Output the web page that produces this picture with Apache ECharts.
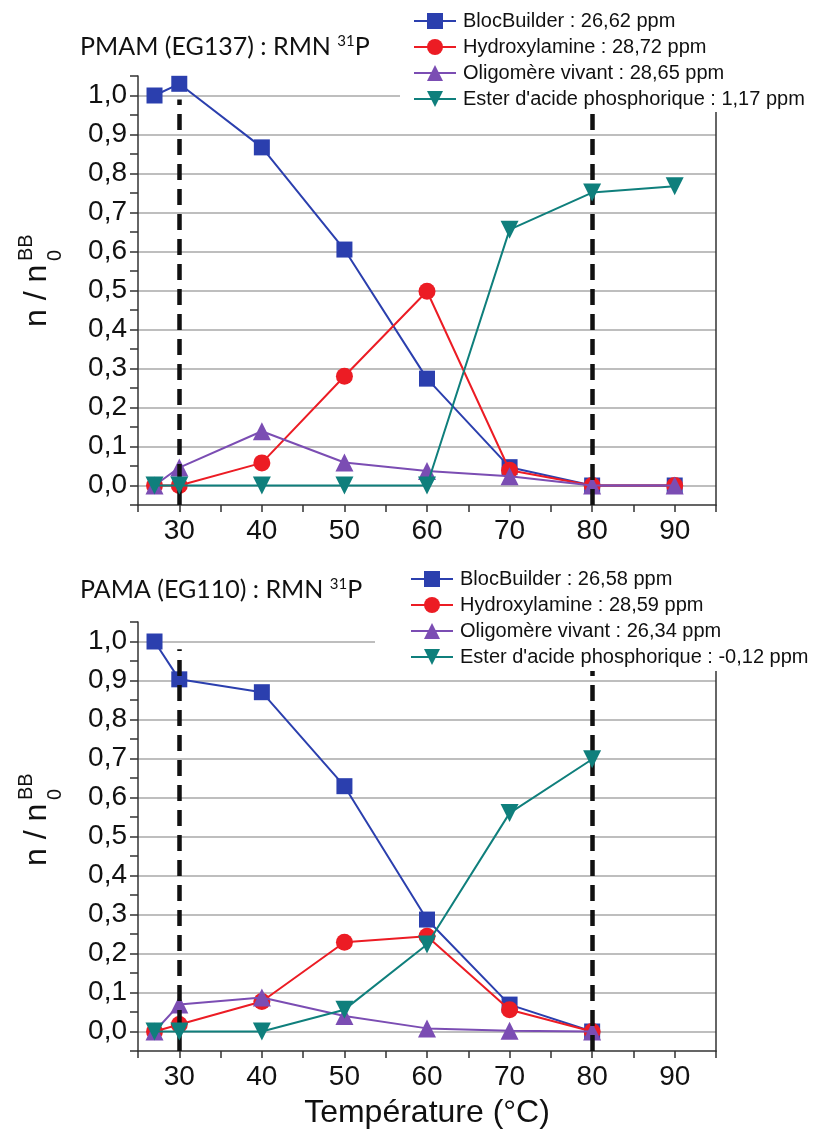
<!DOCTYPE html>
<html><head><meta charset="utf-8">
<script src="https://cdn.jsdelivr.net/npm/echarts@6/dist/echarts.min.js"></script>
<style>html,body{margin:0;padding:0;background:#fff}#c{width:836px;height:1133px}</style>
</head><body><div id="c"></div>
<script>
// ---- data ----
const tempsTop = [27, 30, 40, 50, 60, 70, 80, 90];
const blocBuilderTop   = [1.000, 1.030, 0.867, 0.605, 0.274, 0.047, 0, 0];
const hydroxylamineTop = [0, 0, 0.058, 0.280, 0.498, 0.039, 0, 0];
const oligomereTop     = [0, 0.046, 0.139, 0.059, 0.037, 0.024, 0, 0];
const esterTop         = [0, 0, 0, 0, 0, 0.656, 0.751, 0.767];

const tempsBottom = [27, 30, 40, 50, 60, 70, 80];
const blocBuilderBottom   = [1.000, 0.903, 0.870, 0.629, 0.287, 0.069, 0];
const hydroxylamineBottom = [0, 0.018, 0.077, 0.229, 0.244, 0.056, 0];
const oligomereBottom     = [0, 0.069, 0.087, 0.040, 0.008, 0.002, 0];
const esterBottom         = [0, 0, 0, 0.056, 0.223, 0.560, 0.698];

const namesTop = ['BlocBuilder : 26,62 ppm', 'Hydroxylamine : 28,72 ppm', 'Oligomère vivant : 28,65 ppm', "Ester d'acide phosphorique : 1,17 ppm"];
const namesBottom = ['BlocBuilder : 26,58 ppm', 'Hydroxylamine : 28,59 ppm', 'Oligomère vivant : 26,34 ppm', "Ester d'acide phosphorique : -0,12 ppm"];

const xTickLabels = ['30', '40', '50', '60', '70', '80', '90'];
const yTickLabels = ['0,0', '0,1', '0,2', '0,3', '0,4', '0,5', '0,6', '0,7', '0,8', '0,9', '1,0'];

// vertical dashed reference lines: [temperature, from, to]
const dashTop = [[30, -0.05, 0.99], [80, -0.05, 1.05]];
const dashBottom = [[30, -0.05, 0.98], [80, -0.05, 1.05]];

const titleTop = 'PMAM (EG137) : RMN ';
const titleBottom = 'PAMA (EG110) : RMN ';

// ---- styles ----
const FONT = '"Liberation Sans", Arimo, Arial, sans-serif';
const TFONT = 'Lato, "Open Sans", sans-serif';
const colors = ['#2b3fae', '#ec1c24', '#7b4db3', '#0f7f7c'];
const symbols = ['rect', 'circle', 'triangle', 'triangle'];
const rotations = [0, 0, 0, 180];
const sizes = [16, 17, 18, 18];

const GRID_LEFT = 138, GRID_W = 578, GRID_H = 429;
const gridTops = [76, 622];

function xAxisFor(gi) {
  return {
    type: 'value', gridIndex: gi, min: 25, max: 95, interval: 5,
    axisLine: {show: true, onZero: false, lineStyle: {color: '#333', width: 1.5}},
    axisTick: {show: true, length: 7, inside: false, lineStyle: {color: '#333', width: 1.5}},
    axisLabel: {
      margin: 12, fontSize: 28, fontFamily: FONT, color: '#111',
      formatter: v => (Math.round(v) % 10 === 0 && xTickLabels.includes(String(Math.round(v)))) ? String(Math.round(v)) : ''
    },
    splitLine: {show: false}
  };
}
function yAxisFor(gi) {
  return [{
    type: 'value', gridIndex: gi, min: -0.05, max: 1.05, interval: 0.05, position: 'left',
    axisLine: {show: true, lineStyle: {color: '#333', width: 1.5}},
    axisTick: {show: true, length: 8, lineStyle: {color: '#333', width: 1.5}},
    axisLabel: {
      margin: 11, fontSize: 28, fontFamily: FONT, color: '#111',
      formatter: v => { const k = Math.round(v * 20); if (k % 2 !== 0) return ''; return yTickLabels[k / 2] || ''; }
    },
    splitLine: {show: true, lineStyle: {color: ['rgba(0,0,0,0)', '#a9a9a9'], width: 1.5}}
  }, {
    type: 'value', gridIndex: gi, min: -0.05, max: 1.05, interval: 0.05, position: 'right',
    axisLine: {show: true, lineStyle: {color: '#333', width: 1.5}},
    axisTick: {show: false}, axisLabel: {show: false}, splitLine: {show: false}
  }];
}

function mkSeries(gi, names, xs, ysList, dash) {
  return ysList.map((ys, i) => {
    const s = {
      type: 'line', name: names[i], xAxisIndex: gi, yAxisIndex: gi * 2,
      data: xs.map((x, j) => [x, ys[j]]),
      symbol: symbols[i], symbolSize: sizes[i], symbolRotate: rotations[i], showAllSymbol: true,
      lineStyle: {color: colors[i], width: 2}, itemStyle: {color: colors[i]},
      z: 2 + i, animation: false
    };
    if (i === 0) {
      s.markLine = {
        silent: true, symbol: ['none', 'none'], label: {show: false}, animation: false,
        lineStyle: {color: '#111', width: 4.5, type: [16, 9]},
        emphasis: {disabled: true},
        data: dash.map(d => [{coord: [d[0], d[1]]}, {coord: [d[0], d[2]]}])
      };
    }
    return s;
  });
}

function legendFor(names, left, top, padding) {
  return {
    data: names, orient: 'vertical', left, top, padding, itemGap: 6,
    itemWidth: 42, itemHeight: 20, selectedMode: false, backgroundColor: '#fff', z: 20,
    textStyle: {fontSize: 20, fontFamily: FONT, color: '#111', lineHeight: 20, padding: [0, 0, 0, 2]}
  };
}

function yName(x, y) {
  return {
    type: 'group', x, y, rotation: Math.PI / 2, silent: true,
    children: [
      {type: 'text', x: 0, y: 0, style: {text: 'n / n', fontSize: 32, fontFamily: FONT, fill: '#111', align: 'left', verticalAlign: 'middle'}},
      {type: 'text', x: 66, y: 18, style: {text: '0', fontSize: 20, fontFamily: FONT, fill: '#111', align: 'left', verticalAlign: 'middle'}},
      {type: 'text', x: 66, y: -11, style: {text: 'BB', fontSize: 20, fontFamily: FONT, fill: '#111', align: 'left', verticalAlign: 'middle'}}
    ]
  };
}
function title(text, y) {
  return {
    type: 'text', left: 80, top: y - 16, silent: true, z: 100,
    style: {
      text: '{a|' + text + '}{s|31}{a|P}', fill: '#111',
      rich: {a: {fontSize: 25, fontFamily: TFONT, color: '#111'},
             s: {fontSize: 15, fontFamily: TFONT, color: '#111', verticalAlign: 'top'}}
    }
  };
}

const option = {
  backgroundColor: '#fff',
  animation: false,
  grid: gridTops.map(t => ({left: GRID_LEFT, top: t, width: GRID_W, height: GRID_H, containLabel: false})),
  xAxis: [xAxisFor(0), xAxisFor(1)],
  yAxis: [...yAxisFor(0), ...yAxisFor(1)],
  legend: [
    legendFor(namesTop, 400, 0, [11, 10, 3, 13]),
    legendFor(namesBottom, 375, 556, [13, 10, 4, 35])
  ],
  series: [
    ...mkSeries(0, namesTop, tempsTop, [blocBuilderTop, hydroxylamineTop, oligomereTop, esterTop], dashTop),
    ...mkSeries(1, namesBottom, tempsBottom, [blocBuilderBottom, hydroxylamineBottom, oligomereBottom, esterBottom], dashBottom)
  ],
  graphic: [
    title(titleTop, 50),
    title(titleBottom, 593),
    yName(37, 327),
    yName(37, 866),
    {type: 'text', x: 427, y: 1113, silent: true,
     style: {text: 'Température (°C)', fontSize: 32, fontFamily: FONT, fill: '#111', align: 'center', verticalAlign: 'middle'}}
  ]
};
const chart = echarts.init(document.getElementById('c'), null, {renderer: 'canvas'});
chart.setOption(option);
</script></body></html>
